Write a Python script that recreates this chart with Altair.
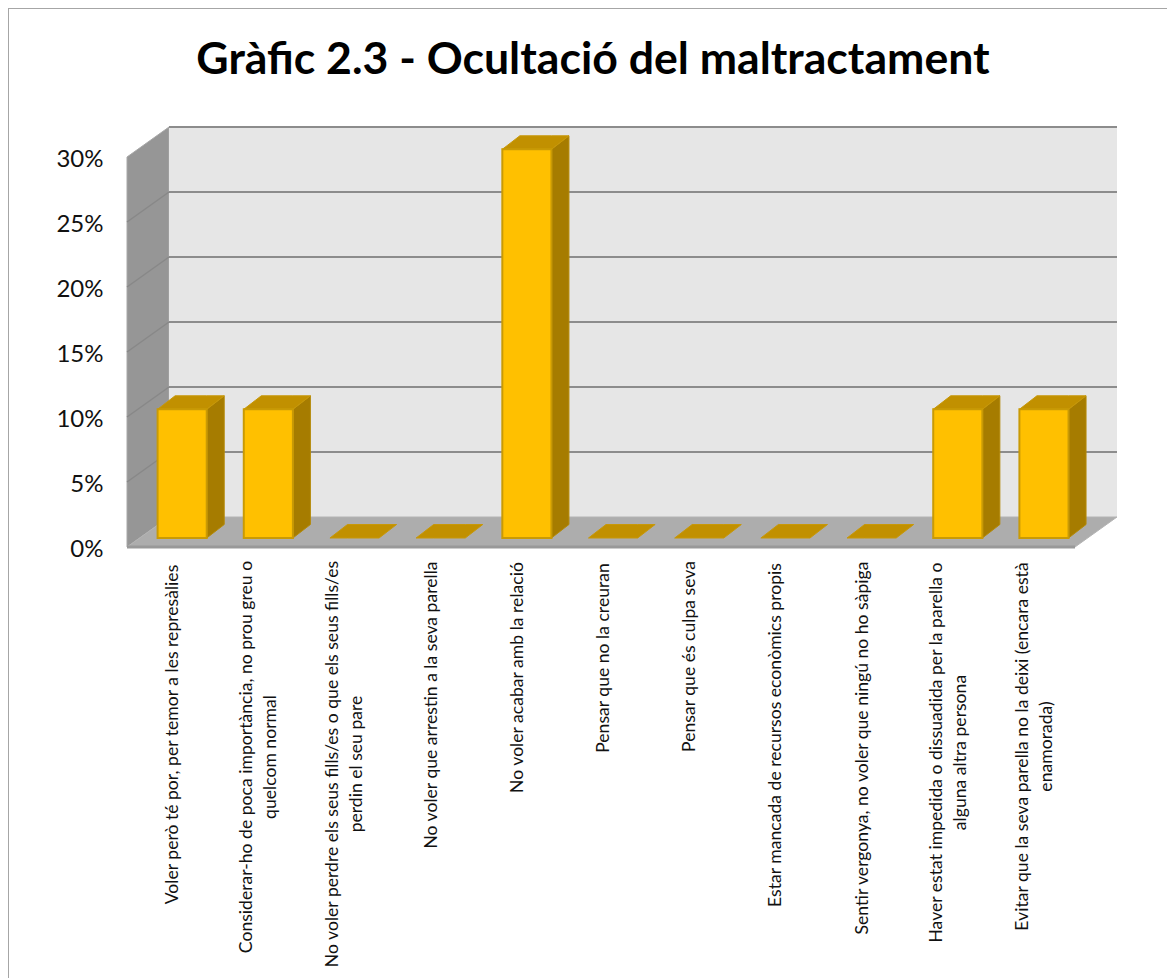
import altair as alt
import pandas as pd

# ---- chart content
TITLE = "Gràfic 2.3 - Ocultació del maltractament"
CATEGORIES = [
    "Voler però té por, per temor a les represàlies",
    "Considerar-ho de poca importància, no prou greu o\nquelcom normal",
    "No voler perdre els seus fills/es o que els seus fills/es\nperdin el seu pare",
    "No voler que arrestin a la seva parella",
    "No voler acabar amb la relació",
    "Pensar que no la creuran",
    "Pensar que és culpa seva",
    "Estar mancada de recursos econòmics propis",
    "Sentir vergonya, no voler que ningú no ho sàpiga",
    "Haver estat impedida o dissuadida per la parella o\nalguna altra persona",
    "Evitar que la seva parella no la deixi (encara està\nenamorada)",
]
VALUES = [10, 10, 0, 0, 30, 0, 0, 0, 0, 10, 10]
Y_TICKS = [0, 5, 10, 15, 20, 25, 30]

# ---- layout (data units: x = category slots, y = percent)
PX_X = 86.18
PX_Y = 13.0
WALL_DX = 42 / PX_X
WALL_DY = 30 / PX_Y
N = len(CATEGORIES)
X_DOMAIN = [0, N + WALL_DX]
Y_DOMAIN = [0, 30 + WALL_DY]
BAR_X0 = 0.355
BAR_W = 0.57
BAR_BASE = 9 / PX_Y
BAR_DX = 17.5 / PX_X
BAR_DY = 13.5 / PX_Y
LABEL_TOP_PX = 16
LABEL_LINE_PX = 24
LABEL_LEN_PX = [343, 388, 402, 284, 229, 190, 187, 344, 370, 379, 367]

x_s = alt.Scale(domain=X_DOMAIN, nice=False, zero=False)
y_s = alt.Scale(domain=Y_DOMAIN, nice=False, zero=False)
y_axis = alt.Axis(
    values=Y_TICKS, title=None, grid=False, domain=False, ticks=False,
    labelExpr="datum.value + '%'", labelFontSize=24, labelColor="#111111",
    labelFont="Lato", labelPadding=24, labelOffset=2.5,
)
X = alt.X("x:Q", scale=x_s, axis=None)
Y = alt.Y("y:Q", scale=y_s, axis=y_axis, stack=None)
X2 = alt.X2("x2:Q")
Y2 = alt.Y2("y2:Q")


def para(face, x0, x1, dx, y0, dy):
    """Horizontal parallelogram (floor or bar top) receding by dx, dy."""
    return [
        dict(f=face, x=x0, y=y0, y2=y0),
        dict(f=face, x=x0 + dx, y=y0, y2=y0 + dy),
        dict(f=face, x=x1, y=y0, y2=y0 + dy),
        dict(f=face, x=x1 + dx, y=y0 + dy, y2=y0 + dy),
    ]


def area(rows, **kw):
    return (
        alt.Chart(pd.DataFrame(rows))
        .mark_area(orient="vertical", **kw)
        .encode(x=X, y=Y, y2=Y2, detail="f:N")
    )


# walls
left_wall = area(
    [dict(f="w", x=0, y=0, y2=30), dict(f="w", x=WALL_DX, y=WALL_DY, y2=30 + WALL_DY)],
    color="#969696", stroke="#a8a8a8", strokeWidth=1,
)
back_wall = (
    alt.Chart(pd.DataFrame([dict(x=WALL_DX, x2=N + WALL_DX, y=WALL_DY, y2=30 + WALL_DY)]))
    .mark_rect(color="#e6e6e6")
    .encode(x=X, x2=X2, y=Y, y2=Y2)
)
floor = area(para("fl", 0, N, WALL_DX, 0, WALL_DY), color="#adadad", stroke="#b4b4b4", strokeWidth=1)

# gridlines + floor front edge
grid_back = (
    alt.Chart(pd.DataFrame([dict(x=WALL_DX, x2=N + WALL_DX, y=t + WALL_DY, y2=t + WALL_DY) for t in Y_TICKS if t > 0]))
    .mark_rule(color="#8c8c8c", strokeWidth=2)
    .encode(x=X, x2=X2, y=Y, y2=Y2)
)
grid_side = (
    alt.Chart(pd.DataFrame([dict(x=0, x2=WALL_DX, y=t, y2=t + WALL_DY) for t in Y_TICKS if t > 0 and t < 30]))
    .mark_rule(color="#888888", strokeWidth=1.5)
    .encode(x=X, x2=X2, y=Y, y2=Y2)
)
front_edge = (
    alt.Chart(pd.DataFrame([dict(x=0, x2=N, y=0, y2=0)]))
    .mark_rule(color="#999999", strokeWidth=3)
    .encode(x=X, x2=X2, y=Y, y2=Y2)
)

# bars
sides, tops, fronts = [], [], []
for i, v in enumerate(VALUES):
    x0 = i + BAR_X0
    x1 = x0 + BAR_W
    top = v + BAR_BASE - (0.1 if v else 0)
    tops += para(f"t{i}", x0, x1, BAR_DX, top, BAR_DY)
    if v:
        sides += [
            dict(f=f"s{i}", x=x1, y=BAR_BASE, y2=top),
            dict(f=f"s{i}", x=x1 + BAR_DX, y=BAR_BASE + BAR_DY, y2=top + BAR_DY),
        ]
        fronts.append(dict(x=x0, x2=x1, y=BAR_BASE, y2=top))

bar_side = area(sides, color="#a67c00", stroke="#b48a08", strokeWidth=1)
bar_top = area(tops, color="#c19000", stroke="#c89808", strokeWidth=1)
bar_front = (
    alt.Chart(pd.DataFrame(fronts))
    .mark_rect(color="#ffc000", stroke="#c99a05", strokeWidth=2)
    .encode(x=X, x2=X2, y=Y, y2=Y2)
)

# category labels
label_df = pd.DataFrame(
    {
        "x": [
            i + 0.5 + (3 - LABEL_LINE_PX / 2 * t.count("\n")) / PX_X
            for i, t in enumerate(CATEGORIES)
        ],
        "y": [-(LABEL_TOP_PX + L / 2) / PX_Y for L in LABEL_LEN_PX],
        "t": CATEGORIES,
    }
)
labels = (
    alt.Chart(label_df)
    .mark_text(angle=270, align="center", baseline="middle", font="Lato", fontSize=17.6,
               lineBreak="\n", lineHeight=LABEL_LINE_PX, color="#111111")
    .encode(x=X, y=Y, text="t:N")
)

# chart frame
frame_top = alt.Chart(pd.DataFrame({"a": [0]})).mark_rule(color="#a6a6a6", strokeWidth=2).encode(
    x=alt.value(-119), x2=alt.value(1048), y=alt.value(-119)
)
frame_left = alt.Chart(pd.DataFrame({"a": [0]})).mark_rule(color="#a6a6a6", strokeWidth=2).encode(
    x=alt.value(-119), y=alt.value(-119), y2=alt.value(851)
)

chart = (
    alt.layer(
        frame_top, frame_left, left_wall, back_wall, floor, grid_back, grid_side, front_edge,
        bar_side, bar_top, bar_front, labels,
    )
    .properties(
        width=990,
        height=420,
        title=alt.TitleParams(
            TITLE, font="Lato", fontSize=44.6, fontWeight="bold", color="#000000",
            anchor="middle", frame="group", dx=-29, offset=0, dy=77,
        ),
        autosize=alt.AutoSizeParams(type="none"),
        padding={"left": 119, "top": 119, "right": 50, "bottom": 431},
        background="#ffffff",
    )
    .configure_view(stroke=None)
)

chart.save("out.html", embed_options={"renderer": "svg", "actions": False})
